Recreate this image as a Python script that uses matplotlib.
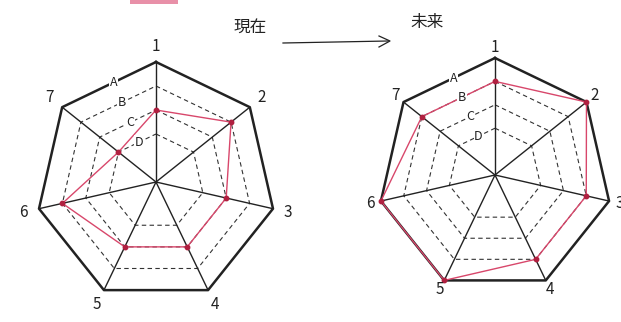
import numpy as np
import matplotlib.pyplot as plt
from matplotlib.patches import Rectangle

plt.rcParams['font.family'] = ['Noto Sans CJK JP', 'DejaVu Sans']

# data
axis_labels = ['1', '2', '3', '4', '5', '6', '7']
level_values = [5, 4, 3, 2]
level_labels = ['A', 'B', 'C', 'D']
now_values = [3, 4, 3, 3, 3, 4, 2]
future_values = [4, 5, 4, 4, 5, 5, 4]
title_now = '現在'
title_future = '未来'

red = '#d8476b'
n = len(axis_labels)
theta = np.arange(n) * 2 * np.pi / n
theta_c = np.append(theta, theta[0])


def closed(vals):
    return np.append(vals, vals[0])


def draw_radar(ax, values, label_r=5.65):
    ax.set_theta_zero_location('N')
    ax.set_theta_direction(-1)
    ax.set_ylim(0, 5)
    ax.grid(False)
    ax.spines['polar'].set_visible(False)
    ax.set_xticks([])
    ax.set_yticks([])
    ax.patch.set_alpha(0)

    # outer ring (A) solid, inner rings dashed
    for lvl in level_values:
        if lvl == max(level_values):
            ax.plot(theta_c, [lvl] * (n + 1), color='#222222', lw=1.8, clip_on=False)
        else:
            ax.plot(theta_c, [lvl] * (n + 1), color='#333333', lw=0.8,
                    ls=(0, (4, 3)), clip_on=False)
    # spokes
    for t in theta:
        ax.plot([t, t], [0, max(level_values)], color='#222222', lw=1.0)

    # level letters sit on the rings between axis 7 and axis 1
    for lvl, lab in zip(level_values, level_labels):
        ax.text(np.deg2rad(-23), lvl * 0.9, lab, fontsize=9, color='#222222',
                ha='center', va='center',
                bbox=dict(boxstyle='square,pad=0.05', fc='white', ec='none'))

    # axis numbers
    for t, lab in zip(theta, axis_labels):
        ax.text(t, label_r, lab, fontsize=11, color='#222222', ha='center', va='center')

    # data polygon
    ax.plot(theta_c, closed(values), color=red, lw=1.0, clip_on=False)
    ax.plot(theta, values, 'o', color='#b02040', ms=3.2, clip_on=False)


fig = plt.figure(figsize=(6.21, 3.22), dpi=100)

ax1 = fig.add_axes([36 / 621, 20 / 322, 240 / 621, 240 / 322], projection='polar')
draw_radar(ax1, now_values)

ax2 = fig.add_axes([378 / 621, 30 / 322, 234 / 621, 234 / 322], projection='polar')
draw_radar(ax2, future_values, label_r=5.45)

# titles and arrow
fig.text(250 / 621, 1 - 27 / 322, title_now, fontsize=12, ha='center', va='center', color='#222222')
fig.text(427 / 621, 1 - 22 / 322, title_future, fontsize=12, ha='center', va='center', color='#222222')
fig.add_artist(plt.Line2D([283 / 621, 388 / 621], [1 - 43 / 322, 1 - 41 / 322],
                          color='#222222', lw=0.9))
fig.add_artist(plt.Line2D([379 / 621, 390 / 621, 379 / 621],
                          [1 - 36 / 322, 1 - 41 / 322, 1 - 47 / 322],
                          color='#222222', lw=0.9))

# pink smudge at top
fig.add_artist(Rectangle((130 / 621, 1 - 4 / 322), 48 / 621, 4 / 322,
                         transform=fig.transFigure, fc='#e890a8', ec='none'))

fig.savefig('out.png', dpi=100)
